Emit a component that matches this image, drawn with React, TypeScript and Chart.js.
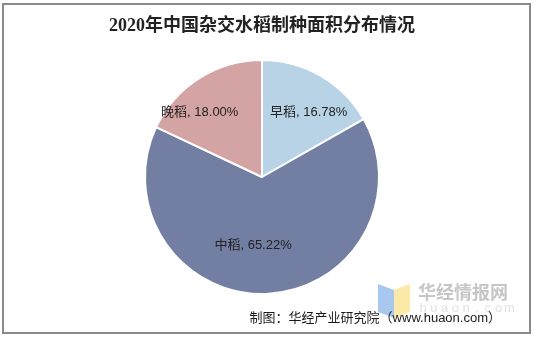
import React, { useEffect, useRef } from "react";
import { Chart, registerables } from "chart.js";

Chart.register(...registerables);

const titleText = "2020年中国杂交水稻制种面积分布情况";
const footerText = "制图：华经产业研究院（www.huaon.com）";
const categories = ["早稻", "中稻", "晚稻"];
const shares = [16.78, 65.22, 18.0];
const sliceColors = ["#b8d3e5", "#737ea3", "#d4a4a4"];
const labelOffsetX = [6, -12, -19];
const labelOffsetY = [5, -12, 4];

const decorPlugin = {
  id: "decor",
  beforeDraw(chart: any) {
    const ctx = chart.ctx;
    ctx.save();
    ctx.fillStyle = "#ffffff";
    ctx.fillRect(0, 0, chart.width, chart.height);
    ctx.restore();
  },
  afterDatasetsDraw(chart: any) {
    const ctx = chart.ctx;
    const meta = chart.getDatasetMeta(0);
    ctx.save();
    ctx.font = "13px 'Liberation Sans', 'Noto Sans CJK SC', sans-serif";
    ctx.fillStyle = "#222222";
    ctx.textAlign = "center";
    ctx.textBaseline = "middle";
    meta.data.forEach((arc: any, i: number) => {
      const { x, y, startAngle, endAngle, outerRadius } = arc.getProps(
        ["x", "y", "startAngle", "endAngle", "outerRadius"],
        true
      );
      const mid = (startAngle + endAngle) / 2;
      const r = outerRadius * 0.69;
      const lx = x + Math.cos(mid) * r + labelOffsetX[i];
      const ly = y + Math.sin(mid) * r + labelOffsetY[i];
      ctx.fillText(`${categories[i]}, ${shares[i].toFixed(2)}%`, lx, ly);
    });
    ctx.restore();
  },
  afterDraw(chart: any) {
    const ctx = chart.ctx;
    ctx.save();
    // frame
    ctx.strokeStyle = "#8a8a8a";
    ctx.lineWidth = 2;
    ctx.strokeRect(3, 4, 527, 329);
    // title
    ctx.fillStyle = "#222222";
    ctx.font = "bold 18px 'Liberation Serif', 'Noto Sans CJK SC', serif";
    ctx.textAlign = "center";
    ctx.textBaseline = "middle";
    ctx.fillText(titleText, 262, 26);
    // watermark logo
    ctx.fillStyle = "#a9c8f0";
    ctx.beginPath();
    ctx.moveTo(378, 284);
    ctx.lineTo(394, 290);
    ctx.lineTo(394, 318);
    ctx.lineTo(378, 312);
    ctx.closePath();
    ctx.fill();
    ctx.fillStyle = "#fbe9a8";
    ctx.beginPath();
    ctx.moveTo(394, 290);
    ctx.lineTo(410, 284);
    ctx.lineTo(410, 312);
    ctx.lineTo(394, 318);
    ctx.closePath();
    ctx.fill();
    ctx.fillStyle = "#c6c6c6";
    ctx.font = "bold 18px 'Noto Sans CJK SC', sans-serif";
    ctx.textAlign = "left";
    ctx.fillText("华经情报网", 418, 292);
    ctx.fillStyle = "#e2e2e2";
    ctx.font = "13px 'Liberation Sans', sans-serif";
    ctx.textAlign = "center";
    const wm = "huaon.com";
    for (let i = 0; i < wm.length; i++) {
      ctx.fillText(wm[i], 423 + i * 10.8, 308);
    }
    // footer
    ctx.fillStyle = "#1a1a1a";
    ctx.font = "13px 'Liberation Sans', 'Noto Sans CJK SC', sans-serif";
    ctx.textAlign = "right";
    ctx.fillText(footerText, 501, 318);
    ctx.restore();
  },
};

export default function App() {
  const ref = useRef<HTMLCanvasElement | null>(null);
  useEffect(() => {
    if (!ref.current) return;
    const chart = new Chart(ref.current, {
      type: "pie",
      data: {
        labels: categories,
        datasets: [
          {
            data: shares,
            backgroundColor: sliceColors,
            borderColor: "#ffffff",
            borderWidth: 2,
          },
        ],
      },
      options: {
        responsive: false,
        animation: false,
        layout: { padding: { left: 144, right: 154, top: 59, bottom: 43 } },
        plugins: {
          legend: { display: false },
          tooltip: { enabled: false },
          title: { display: false },
        },
      },
      plugins: [decorPlugin],
    });
    return () => chart.destroy();
  }, []);
  return (
    <div style={{ position: "fixed", left: 0, top: 0, width: 534, height: 338, background: "#fff" }}>
      <canvas ref={ref} width={534} height={338} style={{ display: "block" }} />
    </div>
  );
}
